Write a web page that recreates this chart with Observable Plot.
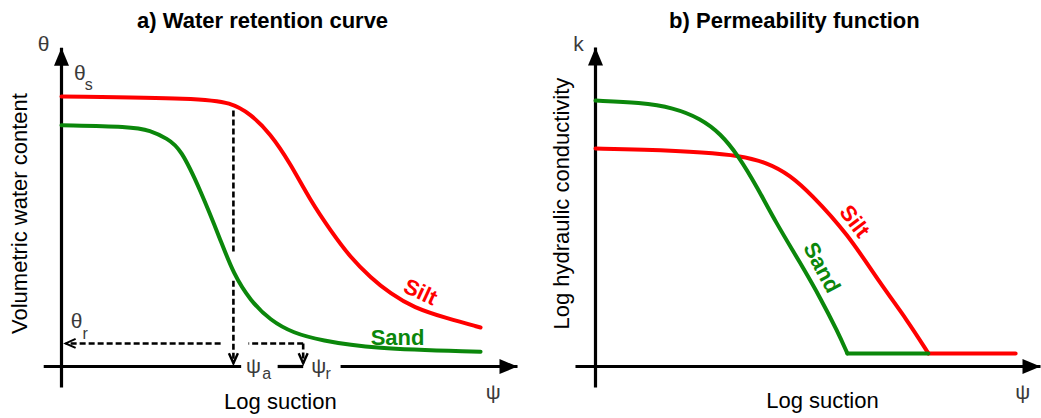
<!DOCTYPE html>
<html><head><meta charset="utf-8">
<script src="https://cdn.jsdelivr.net/npm/d3@7"></script>
<script src="https://cdn.jsdelivr.net/npm/@observablehq/plot@0.6"></script>
<style>
html,body{margin:0;padding:0;background:#fff;}
#wrap{display:flex;width:1041px;height:418px;overflow:hidden;}
#wrap svg{overflow:visible;}
</style></head><body><div id="wrap"></div>
<script>
// ---------- Data: a) Water retention curve (x = log suction, y = volumetric water content)
const suctionSiltTheta = [0, 3.05, 3.71, 4.14, 4.58, 5.02, 5.46, 5.90, 6.34, 6.78, 7.21, 7.72, 8.46, 9.19];
const thetaSilt        = [0.422, 0.419, 0.4125, 0.395, 0.364, 0.317, 0.259, 0.2125, 0.170, 0.139, 0.114, 0.092, 0.075, 0.061];
const suctionSandTheta = [0, 1.51, 1.95, 2.32, 2.61, 3.05, 3.49, 3.77, 4.14, 4.58, 5.09, 5.68, 6.78, 9.19];
const thetaSand        = [0.377, 0.375, 0.369, 0.356, 0.341, 0.275, 0.197, 0.145, 0.103, 0.072, 0.052, 0.041, 0.028, 0.023];
const psiA = 3.77, psiR = 5.30, thetaR = 0.036, thetaAtPsiA = 0.40;

// ---------- Data: b) Permeability function (x = log suction, y = log k)
const suctionSiltK = [0, 1.01, 2.52, 3.21, 3.87, 4.38, 4.83, 5.66, 6.40, 7.01, 7.48];
const kSilt        = [6.81, 6.78, 6.69, 6.59, 6.375, 5.97, 5.41, 4.16, 2.59, 1.44, 0.41];
const suctionSandK = [0, 1.01, 1.75, 2.36, 2.81, 3.21, 3.64, 4.04, 4.61, 5.06, 5.44, 5.66];
const kSand        = [8.31, 8.25, 8.09, 7.75, 7.28, 6.59, 5.59, 4.53, 3.22, 2.125, 1.09, 0.41];
const kResidual = 0.41, siltKEnd = 9.44;

const RED = "#ff0000", GREEN = "#0b870b", GREY = "#3a3a3a";
const FONT = "Liberation Sans, Arial, Helvetica, sans-serif";

// arrowhead symbols (tip at the data point)
const headUp = {draw(c){c.moveTo(0,0);c.lineTo(7.5,18);c.lineTo(-7.5,18);c.closePath();}};
const headRight = {draw(c){c.moveTo(0,0);c.lineTo(-18,7.5);c.lineTo(-18,-7.5);c.closePath();}};
const vDown = {draw(c){c.moveTo(-4.5,-10);c.lineTo(0,0);c.lineTo(4.5,-10);}};
const vLeft = {draw(c){c.moveTo(10,-4.5);c.lineTo(0,0);c.lineTo(10,4.5);}};

const zip = (xs, ys) => xs.map((x, i) => ({x, y: ys[i]}));

// ---------- Panel a
const xAxisA = [[-0.39, 3.94], [4.74, psiR], [6.12, 10]];
const yAxisA = [-0.033, 0.498];
const dashA = [
  {x1: psiA, y1: thetaAtPsiA, x2: psiA, y2: 0.177},
  {x1: psiA, y1: 0.134, x2: psiA, y2: 0.005},
  {x1: 3.49, y1: thetaR, x2: 0.09, y2: thetaR},
  {x1: psiR, y1: thetaR, x2: 4.10, y2: thetaR},
  {x1: psiR, y1: thetaR, x2: psiR, y2: 0.005}
];
const greek = {fill: GREY, fontSize: 21};
const sub = {fill: GREY, fontSize: 16};

const plotA = Plot.plot({
  width: 520, height: 418,
  marginLeft: 61, marginRight: 3, marginTop: 46, marginBottom: 52,
  x: {domain: [0, 10], axis: null},
  y: {domain: [0, 0.5], axis: null},
  style: {fontFamily: FONT, background: "white", overflow: "visible"},
  marks: [
    // axes
    Plot.link(xAxisA, {x1: d => d[0], x2: d => d[1], y1: 0, y2: 0, stroke: "black", strokeWidth: 3.2}),
    Plot.link([yAxisA], {x1: 0, x2: 0, y1: d => d[0], y2: d => d[1], stroke: "black", strokeWidth: 3.2}),
    Plot.dot([0], {x: 0, y: yAxisA[1], symbol: headUp, fill: "black", stroke: "none"}),
    Plot.dot([0], {x: 10, y: 0, symbol: headRight, fill: "black", stroke: "none"}),
    // dashed guides
    Plot.link(dashA, {x1: "x1", y1: "y1", x2: "x2", y2: "y2", stroke: "black", strokeWidth: 2.6, strokeDasharray: "6,3"}),
    Plot.dot([psiA, psiR], {x: d => d, y: 0.005, symbol: vDown, fill: "none", stroke: "black", strokeWidth: 2.4}),
    Plot.dot([0], {x: 0.09, y: thetaR, symbol: vLeft, fill: "none", stroke: "black", strokeWidth: 2}),
    // curves
    Plot.line(zip(suctionSiltTheta, thetaSilt), {x: "x", y: "y", stroke: RED, strokeWidth: 4, curve: "basis"}),
    Plot.line(zip(suctionSandTheta, thetaSand), {x: "x", y: "y", stroke: GREEN, strokeWidth: 4, curve: "basis"}),
    // labels
    Plot.text(["a) Water retention curve"], {x: 4.41, y: 0.54, fontSize: 22, fontWeight: "bold", fill: "black"}),
    Plot.text(["Volumetric water content"], {x: -0.92, y: 0.239, rotate: -90, fontSize: 22, fill: "black"}),
    Plot.text(["Log suction"], {x: 4.80, y: -0.0547, fontSize: 22, fill: "black"}),
    Plot.text(["\u03C8"], {x: 9.47, y: -0.041, ...greek}),
    Plot.text(["\u03B8"], {x: -0.39, y: 0.503, ...greek}),
    Plot.text(["\u03B8"], {x: 0.40, y: 0.458, ...greek}),
    Plot.text(["s"], {x: 0.60, y: 0.440, ...sub}),
    Plot.text(["\u03B8"], {x: 0.33, y: 0.0703, ...greek}),
    Plot.text(["r"], {x: 0.52, y: 0.0516, ...sub}),
    Plot.text(["\u03C8"], {x: 4.21, y: 0, ...greek}),
    Plot.text(["a"], {x: 4.50, y: -0.012, ...sub}),
    Plot.text(["\u03C8"], {x: 5.64, y: 0, ...greek}),
    Plot.text(["r"], {x: 5.85, y: -0.012, ...sub}),
    Plot.text(["Silt"], {x: 7.87, y: 0.116, rotate: 25, fontSize: 22, fontWeight: "bold", fill: RED}),
    Plot.text(["Sand"], {x: 7.37, y: 0.045, fontSize: 22, fontWeight: "bold", fill: GREEN})
  ]
});

// ---------- Panel b
const xAxisB = [-0.45, 10.0];
const yAxisB = [-0.66, 9.97];
const plotB = Plot.plot({
  width: 521, height: 418,
  marginLeft: 75, marginRight: 1, marginTop: 46, marginBottom: 52,
  x: {domain: [0, 10], axis: null},
  y: {domain: [0, 10], axis: null},
  style: {fontFamily: FONT, background: "white", overflow: "visible"},
  marks: [
    Plot.link([xAxisB], {x1: d => d[0], x2: d => d[1], y1: 0, y2: 0, stroke: "black", strokeWidth: 3.2}),
    Plot.link([yAxisB], {x1: 0, x2: 0, y1: d => d[0], y2: d => d[1], stroke: "black", strokeWidth: 3.2}),
    Plot.dot([0], {x: 0, y: yAxisB[1], symbol: headUp, fill: "black", stroke: "none"}),
    Plot.dot([0], {x: xAxisB[1], y: 0, symbol: headRight, fill: "black", stroke: "none"}),
    // silt
    Plot.line(zip(suctionSiltK, kSilt), {x: "x", y: "y", stroke: RED, strokeWidth: 4, curve: "basis"}),
    Plot.line([{x: suctionSiltK[suctionSiltK.length - 1], y: kResidual}, {x: siltKEnd, y: kResidual}], {x: "x", y: "y", stroke: RED, strokeWidth: 4}),
    // sand
    Plot.line(zip(suctionSandK, kSand), {x: "x", y: "y", stroke: GREEN, strokeWidth: 4, curve: "basis"}),
    Plot.line([{x: suctionSandK[suctionSandK.length - 1], y: kResidual}, {x: suctionSiltK[suctionSiltK.length - 1], y: kResidual}], {x: "x", y: "y", stroke: GREEN, strokeWidth: 4}),
    // labels
    Plot.text(["b) Permeability function"], {x: 4.47, y: 10.80, fontSize: 22, fontWeight: "bold", fill: "black"}),
    Plot.text(["Log hydraulic conductivity"], {x: -0.764, y: 5.09, rotate: -90, fontSize: 22, fill: "black"}),
    Plot.text(["Log suction"], {x: 5.10, y: -1.09, fontSize: 22, fill: "black"}),
    Plot.text(["\u03C8"], {x: 9.6, y: -0.81, ...greek}),
    Plot.text(["k"], {x: -0.38, y: 10.06, ...greek}),
    Plot.text(["Silt"], {x: 5.82, y: 4.53, rotate: 53, fontSize: 22, fontWeight: "bold", fill: RED}),
    Plot.text(["Sand"], {x: 5.08, y: 3.09, rotate: 62, fontSize: 22, fontWeight: "bold", fill: GREEN})
  ]
});

const wrap = document.getElementById("wrap");
wrap.appendChild(plotA);
wrap.appendChild(plotB);
</script>
</body></html>
